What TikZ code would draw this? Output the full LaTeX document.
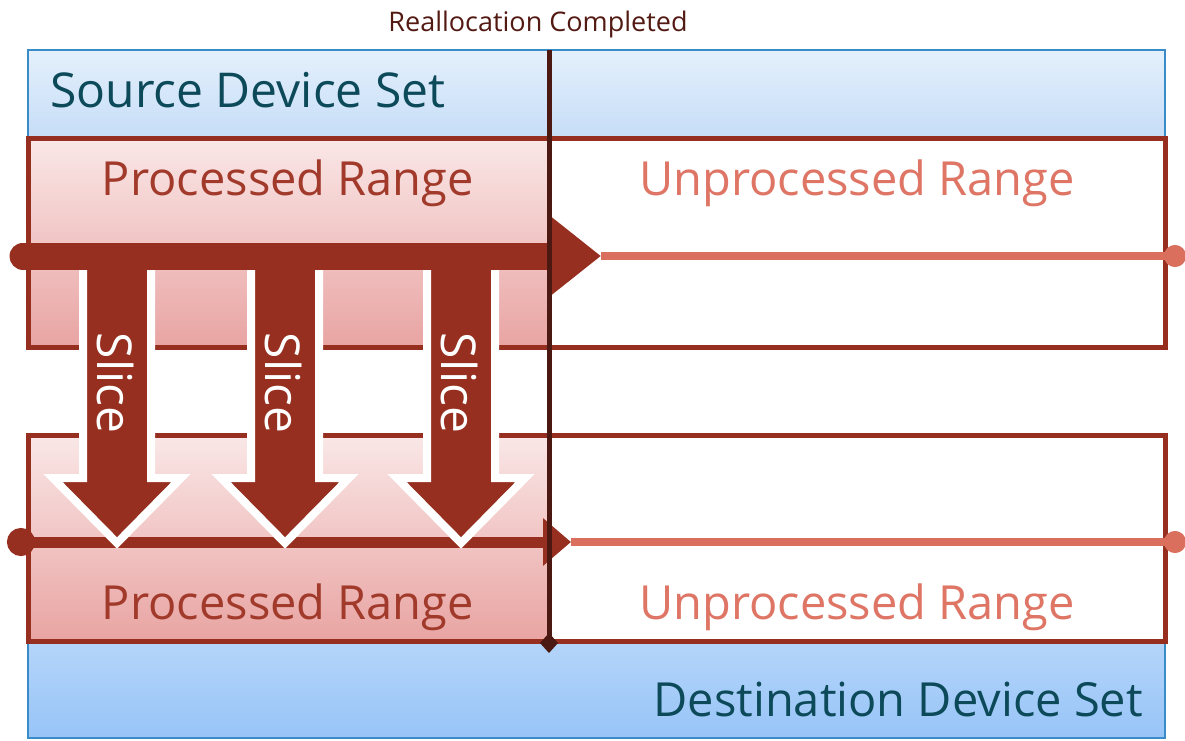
\documentclass[tikz,border=0pt]{standalone}
\usepackage{fontspec}
\setmainfont{Open Sans}
\usetikzlibrary{arrows.meta}
\definecolor{brick}{HTML}{962F1F}
\definecolor{salmon}{HTML}{DB6F5E}
\definecolor{salmontext}{HTML}{DE7565}
\definecolor{bricktext}{HTML}{A13A2B}
\definecolor{teal}{HTML}{0C4A5A}
\definecolor{cutline}{HTML}{4B1812}
\definecolor{frameblue}{HTML}{3A8CC8}
\definecolor{pinkA}{HTML}{FAE7E7}
\definecolor{pinkB}{HTML}{E8A4A2}
\definecolor{skyA}{HTML}{E4F0FC}
\definecolor{skyB}{HTML}{C6DDF7}
\definecolor{seaA}{HTML}{B5D5F9}
\definecolor{seaB}{HTML}{97C4F8}
\begin{document}
\begin{tikzpicture}[x=1pt, y=-1pt,
 band/.style={draw=frameblue, line width=1.5},
 rangebox/.style={draw=brick, line width=5},
 bigtext/.style={font=\fontsize{47}{52}\selectfont, inner sep=0, anchor=base},
 slicearrow/.style={fill=brick, draw=white, line width=8, line join=miter},
 slicetext/.style={font=\fontsize{48}{52}\selectfont, text=white, inner sep=0, rotate=-90}]
\useasboundingbox (0,0) rectangle (1185,740);
\shade[top color=skyA, bottom color=skyB] (28,50) rectangle (1165,138);
\draw[band] (28,50) rectangle (1165,138);
\shade[top color=seaA, bottom color=seaB] (28,641) rectangle (1165,738);
\draw[band] (28,641) rectangle (1165,738);
\fill[white] (28,138) rectangle (1165,347);
\fill[white] (28,435) rectangle (1165,641);
\shade[top color=pinkA, bottom color=pinkB] (28,138) rectangle (549,347);
\shade[top color=pinkA, bottom color=pinkB] (28,435) rectangle (549,641);
\draw[rangebox] (28,138) rectangle (1165,347);
\draw[rangebox] (28,435) rectangle (1165,641);
\node[bigtext, font=\fontsize{48}{52}\selectfont, anchor=base west, text=teal] (src) at (50,107) {Source Device Set};
\node[bigtext, anchor=base east, text=teal] (dst) at (1143,716) {Destination Device Set};
\node[bigtext, text=bricktext] (doneA) at (288,195) {Processed Range};
\node[bigtext, text=salmontext] (todoA) at (857,195) {Unprocessed Range};
\node[bigtext, text=bricktext] (doneB) at (288,619) {Processed Range};
\node[bigtext, text=salmontext] (todoB) at (857,619) {Unprocessed Range};
\coordinate (b0) at (7,542);
\coordinate (b1) at (571,542);
\coordinate (b2) at (1186,542);
\draw[salmon, line width=8, -{Circle[length=22pt]}] (b1) -- (b2);
\draw[brick, line width=11, {Circle[length=28pt]}-{Triangle[length=28pt, width=46pt]}] (b0) -- (b1);
\foreach \x/\n in {117/1, 285/2, 461/3} {
 \draw[slicearrow] (\x-34,255) -- (\x-34,478) -- (\x-64,478) -- (\x,543) -- (\x+64,478) -- (\x+34,478) -- (\x+34,255) -- cycle;
 \node[slicetext] (slice\n) at (\x-2,383) {Slice};
}
\coordinate (a0) at (23,256);
\coordinate (a1) at (601,256);
\coordinate (a2) at (1186,256);
\draw[salmon, line width=8, -{Circle[length=22pt]}] (a1) -- (a2);
\draw[brick, line width=27, line cap=round, -{Triangle[length=53pt, width=80pt]}] (a0) -- (a1);
\coordinate (m0) at (549,50);
\coordinate (m1) at (549,653);
\draw[cutline, line width=5, -{Diamond[length=20pt, width=18pt]}] (m0) -- (m1);
\node[font=\fontsize{27}{30}\selectfont, text=cutline!90!brick, inner sep=0, anchor=base] (done) at (538,31) {Reallocation Completed};
\end{tikzpicture}
\end{document}
